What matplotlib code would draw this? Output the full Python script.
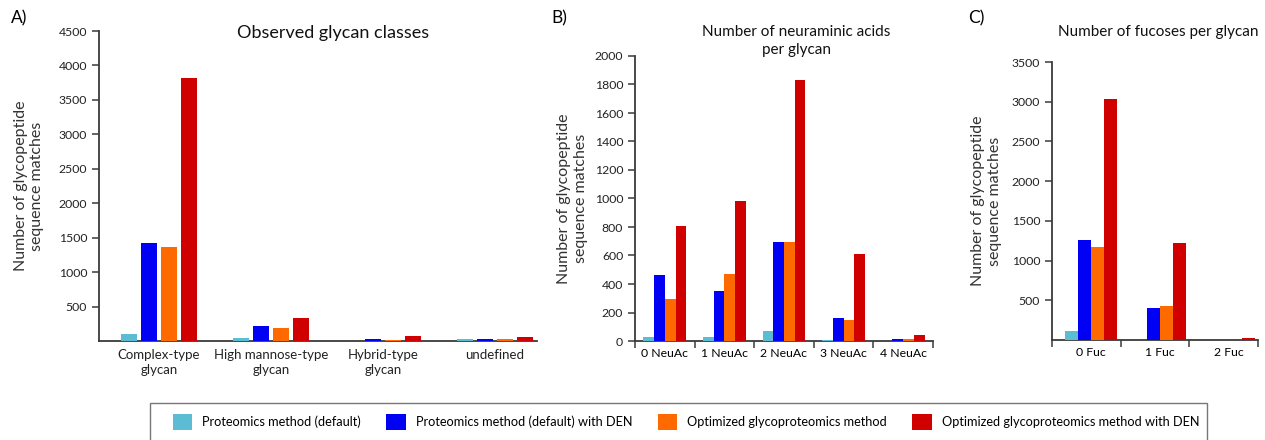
import numpy as np
import matplotlib
matplotlib.use("Agg")
import matplotlib.pyplot as plt
from matplotlib.patches import Rectangle

plt.rcParams['font.family'] = ['Lato', 'DejaVu Sans']

methods = ["Proteomics method (default)",
           "Proteomics method (default) with DEN",
           "Optimized glycoproteomics method",
           "Optimized glycoproteomics method with DEN"]
colors = ["#5bbcd3", "#0000f5", "#ff6a00", "#d00000"]

# A) glycan classes
classes = ["Complex-type\nglycan", "High mannose-type\nglycan",
           "Hybrid-type\nglycan", "undefined"]
cls_default = [100, 40, 0, 25]
cls_default_den = [1420, 220, 25, 25]
cls_opt = [1370, 195, 20, 25]
cls_opt_den = [3820, 330, 75, 55]

# B) neuraminic acids
neuac = ["0 NeuAc", "1 NeuAc", "2 NeuAc", "3 NeuAc", "4 NeuAc"]
neu_default = [25, 25, 70, 8, 0]
neu_default_den = [460, 350, 695, 160, 12]
neu_opt = [295, 470, 695, 150, 12]
neu_opt_den = [810, 980, 1830, 610, 45]

# C) fucoses
fuc = ["0 Fuc", "1 Fuc", "2 Fuc"]
fuc_default = [110, 0, 0]
fuc_default_den = [1260, 400, 0]
fuc_opt = [1175, 430, 0]
fuc_opt_den = [3030, 1215, 20]

W, H = 1265, 440
fig = plt.figure(figsize=(W / 100, H / 100), dpi=100)


def ax_at(x0, x1, ytop, ybot):
    return fig.add_axes([x0 / W, 1 - ybot / H, (x1 - x0) / W, (ybot - ytop) / H])


axis_col = "#3a3a3a"


def style(ax, labelx):
    for s in ("top", "right"):
        ax.spines[s].set_visible(False)
    for s in ("left", "bottom"):
        ax.spines[s].set_color(axis_col)
        ax.spines[s].set_linewidth(1.3)
    ax.tick_params(axis="both", colors=axis_col, length=5, width=1.1,
                   labelcolor="#222222")
    ax.set_ylabel("Number of glycopeptide\nsequence matches", fontsize=11.5,
                  color="#333333", linespacing=1.25)
    ax.yaxis.set_label_coords(labelx, 0.5)


def draw_groups(ax, series, step, width, shift=0.0):
    x = np.arange(len(series[0]))
    for i, (vals, c) in enumerate(zip(series, colors)):
        ax.bar(x + shift + (i - 1.5) * step, vals, width=width, color=c,
               linewidth=0, label=methods[i], zorder=3)
    return x


# panel A
axA = ax_at(99, 537, 31, 341)
style(axA, -0.125)
x = draw_groups(axA, [cls_default, cls_default_den, cls_opt, cls_opt_den],
                0.18, 0.145)
axA.set_xlim(-0.536, 3.375)
axA.set_ylim(0, 4500)
axA.set_yticks(np.arange(500, 4501, 500))
axA.set_xticks(x)
axA.set_xticklabels(classes, fontsize=9.5, linespacing=1.25)
axA.tick_params(axis="x", length=0, pad=6)
axA.tick_params(axis="y", labelsize=8.8)
fig.text(333 / W, 1 - 33 / H, "Observed glycan classes", fontsize=13,
         ha="center", va="center", color="#111111")
fig.text(11 / W, 1 - 18 / H, "A)", fontsize=12.5, ha="left", va="center")

# panel B
axB = ax_at(635, 933, 56, 341)
style(axB, -0.158)
x = draw_groups(axB, [neu_default, neu_default_den, neu_opt, neu_opt_den],
                0.18, 0.18)
axB.set_xlim(-0.5, 4.5)
axB.set_ylim(0, 2000)
axB.set_yticks(np.arange(0, 2001, 200))
axB.set_xticks(np.arange(-0.5, 4.6, 1))
axB.set_xticklabels([])
axB.set_xticks(x, minor=True)
axB.set_xticklabels(neuac, minor=True, fontsize=8.8)
axB.tick_params(axis="x", which="minor", length=0, pad=5)
axB.tick_params(axis="y", labelsize=8.8)
fig.text(796 / W, 1 - 41 / H, "Number of neuraminic acids\nper glycan",
         fontsize=11, ha="center", va="center", color="#111111",
         linespacing=1.35)
fig.text(551 / W, 1 - 18 / H, "B)", fontsize=12.5, ha="left", va="center")

# panel C
axC = ax_at(1052, 1258, 62, 340)
style(axC, -0.243)
x = draw_groups(axC, [fuc_default, fuc_default_den, fuc_opt, fuc_opt_den],
                0.19, 0.19, shift=0.07)
axC.set_xlim(-0.5, 2.5)
axC.set_ylim(0, 3500)
axC.set_yticks(np.arange(500, 3501, 500))
axC.set_xticks(np.arange(-0.5, 2.6, 1))
axC.set_xticklabels([])
axC.set_xticks(x + 0.07, minor=True)
axC.set_xticklabels(fuc, minor=True, fontsize=8.8)
axC.tick_params(axis="x", which="minor", length=0, pad=5)
axC.tick_params(axis="y", labelsize=8.8)
fig.text(1158 / W, 1 - 32 / H, "Number of fucoses per glycan",
         fontsize=11, ha="center", va="center", color="#111111")
fig.text(968 / W, 1 - 18 / H, "C)", fontsize=12.5, ha="left", va="center")

# legend frame runs off the bottom edge
fig.patches.append(Rectangle((150 / W, -0.05), (1207 - 150) / W,
                             (1 - 403 / H) + 0.05, transform=fig.transFigure,
                             fill=False, edgecolor="#777777", linewidth=1.0))
handles, labels = axA.get_legend_handles_labels()
fig.legend(handles, labels, loc="center", bbox_to_anchor=(686 / W, 1 - 422 / H),
           ncol=4, frameon=False, fontsize=9.2, handlelength=1.5,
           handleheight=1.5, handletextpad=0.8, columnspacing=2.0)

fig.savefig("out.png", dpi=100)
